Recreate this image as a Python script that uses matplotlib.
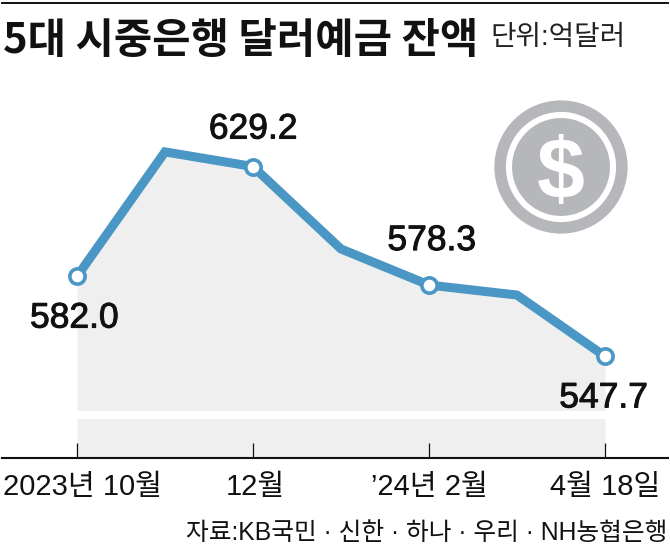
import matplotlib.pyplot as plt
import matplotlib.patheffects as pe
from matplotlib.lines import Line2D
from matplotlib.patches import Circle
from matplotlib.transforms import ScaledTranslation

W, H = 670, 551
plt.rcParams['font.family'] = ['Liberation Sans', 'Noto Sans CJK KR', 'DejaVu Sans']

# monthly points, only four are labelled in the source
months = [0, 1, 2, 3, 4, 5, 6]
balance = [582.0, 635.5, 629.2, 593.8, 578.3, 574.0, 547.7]
labelled = [0, 2, 4, 6]
tick_labels = ['2023년 10월', '12월', '’24년 2월', '4월 18일']
title = '5대 시중은행 달러예금 잔액'
unit = '단위:억달러'
source = '자료:KB국민 · 신한 · 하나 · 우리 · NH농협은행'

BLUE = '#4a96c5'
FILL = '#eeefee'
GREY = '#b5b7ba'


def fx(px):
    return px / W


def fy(px):
    return 1 - px / H


fig = plt.figure(figsize=(W / 100, H / 100), dpi=100)
fig.add_artist(Line2D([fx(2), fx(668)], [fy(3), fy(3)], color='#111111', lw=1.4))
fig.text(fx(3), fy(41), title, fontsize=30, fontweight='bold', va='center', ha='left', color='#111111',
         family=['Noto Sans CJK KR'])
fig.text(fx(490), fy(38), unit, fontsize=20, va='center', ha='left', color='#222222')
fig.text(fx(667), fy(533), source, fontsize=17.8, va='center', ha='right', color='#111111')

ax = fig.add_axes([fx(2), fy(458), fx(666), fy(120) - fy(458)])
ax.set_xlim(-0.852, 6.716)
ax.set_ylim(504.0, 649.2)

ax.fill_between(months, balance, 504.0, color=FILL, lw=0, zorder=1)
ax.axhspan(520.8, 524.2, color='white', lw=0, zorder=2)
ax.plot(months, balance, color=BLUE, lw=6.5, solid_joinstyle='miter', zorder=3)
ax.plot([months[i] for i in labelled], [balance[i] for i in labelled], ls='none', marker='o',
        ms=11, mfc='white', mec=BLUE, mew=2.6, zorder=4)

offsets = [(-2, -30), (0, 27), (2, 32), (-1, -30)]
for i, off in zip(labelled, offsets):
    ax.annotate(f'{balance[i]:.1f}', (months[i], balance[i]), xytext=off, textcoords='offset points',
                ha='center', va='center', fontsize=25.5, color='#111111', zorder=5,
                path_effects=[pe.withStroke(linewidth=0.7, foreground='#111111')])

for s in ['top', 'left', 'right']:
    ax.spines[s].set_visible(False)
ax.spines['bottom'].set_linewidth(1.5)
ax.spines['bottom'].set_color('#111111')
ax.set_yticks([])
ax.set_xticks([months[i] for i in labelled])
ax.set_xticklabels(tick_labels, fontsize=21, color='#111111')
ax.tick_params(axis='x', direction='in', length=11, width=0.9, pad=11, color='#111111')
ax.patch.set_alpha(0)

# first two labels sit a little right of their ticks
for lab, dx in zip(ax.get_xticklabels(), [4, 2, 0, 0]):
    lab.set_transform(lab.get_transform() + ScaledTranslation(dx / 72, 0, fig.dpi_scale_trans))

# coin icon
coin = fig.add_axes([fx(493), fy(235), fx(136), fy(99) - fy(235)])
coin.set_xlim(-1, 1)
coin.set_ylim(-1, 1)
coin.axis('off')
coin.add_patch(Circle((0, 0), 0.98, color=GREY, lw=0))
coin.add_patch(Circle((0, 0), 0.81, color='white', lw=0))
coin.add_patch(Circle((0, 0), 0.72, color=GREY, lw=0))
coin.text(0, 0, '$', fontsize=62, fontweight='bold', family='Liberation Sans', color='white',
          ha='center', va='center_baseline')

fig.savefig('out.png', dpi=100)
